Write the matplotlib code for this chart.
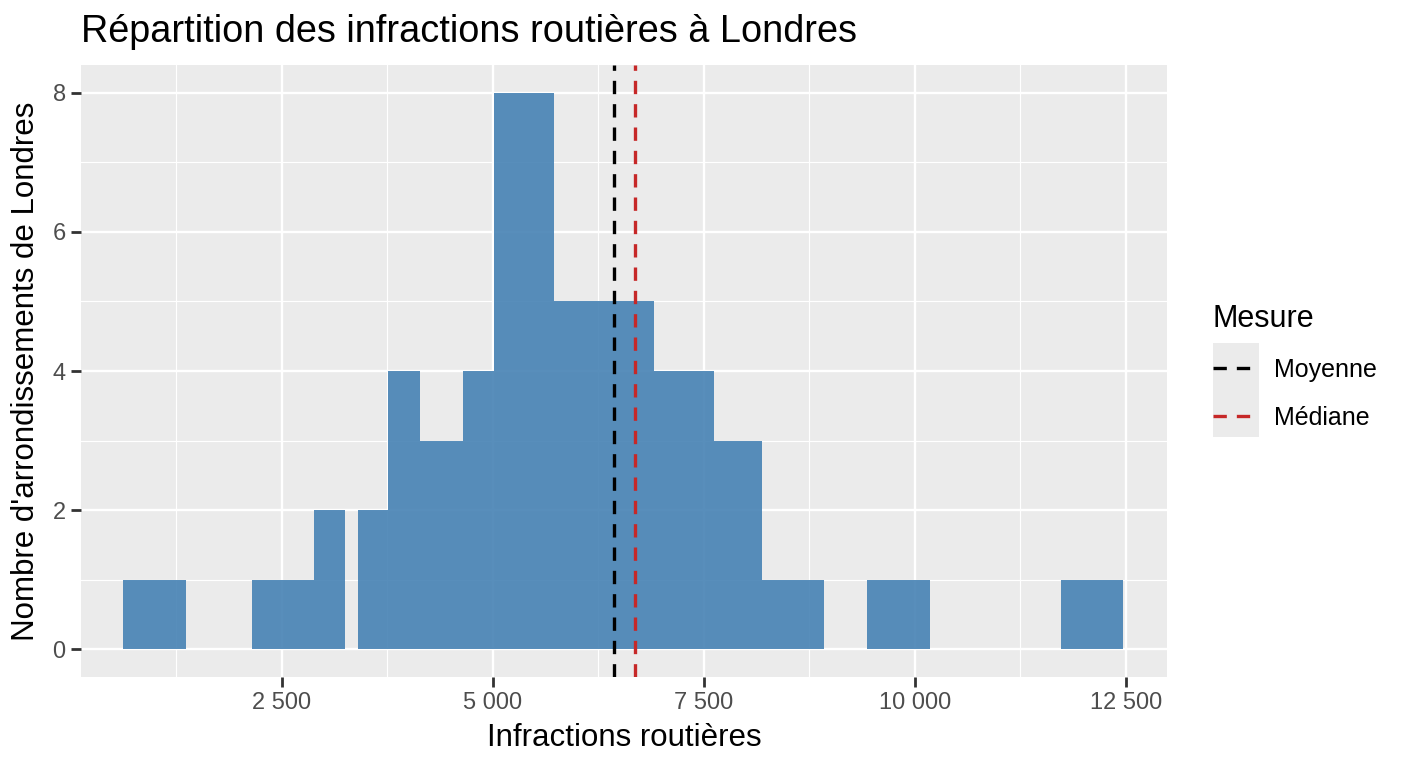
import matplotlib
matplotlib.use("Agg")
import matplotlib.pyplot as plt
from matplotlib.patches import Rectangle
from matplotlib.ticker import FixedLocator
import numpy as np

# ---- data ----
bin_edges = [623, 1363, 2152, 2886, 3250, 3407, 3760, 4140, 4650, 5019,
             5730, 6263, 6915, 7626, 8195, 8929, 9441, 10177, 11736, 12470]
bin_counts = [1, 0, 1, 2, 0, 2, 4, 3, 4, 8, 5, 5, 4, 3, 1, 0, 1, 0, 1]
mean_value = 6443
median_value = 6687
x_ticks = [2500, 5000, 7500, 10000, 12500]
x_tick_labels = ["2 500", "5 000", "7 500", "10 000", "12 500"]
y_ticks = [0, 2, 4, 6, 8]
title = "Répartition des infractions routières à Londres"
x_label = "Infractions routières"
y_label = "Nombre d'arrondissements de Londres"
legend_title = "Mesure"
measure_labels = ["Moyenne", "Médiane"]
measure_colors = ["black", "#C62828"]

plt.rcParams["font.family"] = ["Liberation Sans", "DejaVu Sans"]

fig = plt.figure(figsize=(14.08, 7.68), dpi=100)
ax = fig.add_axes([81 / 1408, 1 - 677 / 768, (1167 - 81) / 1408, (677 - 65) / 768])
ax.set_facecolor("#EBEBEB")

# histogram bars
ax.stairs(bin_counts, bin_edges, fill=True, color="steelblue", alpha=0.9,
          zorder=3, linewidth=0)

# mean / median lines
handles = []
for val, lab, col in zip([mean_value, median_value], measure_labels, measure_colors):
    h = ax.axvline(val, color=col, linewidth=2.4, linestyle=(0, (4, 3)),
                   zorder=4, label=lab)
    handles.append(h)

ax.set_xlim(122, 12990)
ax.set_ylim(-0.4, 8.4)

ax.xaxis.set_major_locator(FixedLocator(x_ticks))
ax.set_xticklabels(x_tick_labels)
ax.yaxis.set_major_locator(FixedLocator(y_ticks))
ax.xaxis.set_minor_locator(FixedLocator([t - 1250 for t in x_ticks] + [x_ticks[-1] + 1250]))
ax.yaxis.set_minor_locator(FixedLocator([1, 3, 5, 7]))

ax.grid(which="major", color="white", linewidth=1.7, zorder=1)
ax.grid(which="minor", color="white", linewidth=0.85, zorder=1)
ax.set_axisbelow(True)
for s in ax.spines.values():
    s.set_visible(False)

ax.tick_params(axis="both", which="major", length=7, width=2, color="#333333",
               labelsize=17, labelcolor="#4D4D4D", pad=4)
ax.tick_params(axis="both", which="minor", length=0)

ax.set_xlabel(x_label, fontsize=22.5, color="black", labelpad=6)
ax.set_ylabel(y_label, fontsize=22.5, color="black", labelpad=8)
fig.text(81 / 1408, 1 - 32 / 768, title, fontsize=27.3, ha="left", va="center")

# legend key background (drawn beneath the legend)
fig.patches.append(Rectangle((1213 / 1408, 1 - 437 / 768), 46 / 1408, 94 / 768,
                             transform=fig.transFigure, facecolor="#EBEBEB",
                             edgecolor="none", zorder=-1))
leg = ax.legend(handles=handles, labels=measure_labels, title=legend_title,
                loc="upper left", bbox_to_anchor=(1205 / 1408, 1 - 296 / 768),
                bbox_transform=fig.transFigure, frameon=False, fontsize=18,
                title_fontsize=22, handlelength=1.85, handletextpad=0.62,
                labelspacing=0.96, alignment="left", borderaxespad=0,
                borderpad=0.3)

fig.savefig("out.png", dpi=100)
